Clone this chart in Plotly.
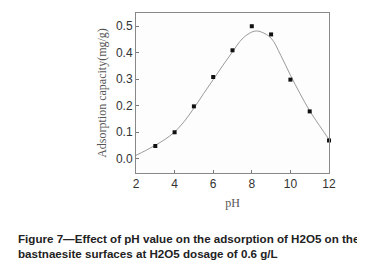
import plotly.graph_objects as go

# measured points
ph_points = [3, 4, 5, 6, 7, 8, 9, 10, 11, 12]
ads_points = [0.047, 0.099, 0.197, 0.308, 0.409, 0.500, 0.469, 0.298, 0.178, 0.068]

# fitted curve
ph_curve = [2, 2.5, 3, 3.5, 4, 4.5, 5, 5.5, 6, 6.5, 7, 7.5, 8, 8.25, 8.5, 9, 9.5, 10, 10.5, 11, 11.5, 12]
ads_curve = [0.012, 0.03, 0.05, 0.072, 0.10, 0.14, 0.19, 0.245, 0.298, 0.352, 0.403, 0.452, 0.478, 0.482, 0.478, 0.455, 0.39, 0.315, 0.245, 0.18, 0.125, 0.072]

x_ticks = [2, 4, 6, 8, 10, 12]
y_ticks = [0.0, 0.1, 0.2, 0.3, 0.4, 0.5]
y_tick_text = ["0.0", "0.1", "0.2", "0.3", "0.4", "0.5"]

L, R, T, B = 128, 44, 5, 102
W, H = 365, 267
pw, ph_ = W - L - R, H - T - B

def px(xp):
    return (xp - L) / pw

def py(yp):
    return (H - B - yp) / ph_

fig = go.Figure()
fig.add_trace(go.Scatter(x=ph_curve, y=ads_curve, mode="lines",
                         line=dict(color="#9a9a9a", width=1, shape="spline"),
                         hoverinfo="skip", showlegend=False))
fig.add_trace(go.Scatter(x=ph_points, y=ads_points, mode="markers",
                         marker=dict(symbol="square", size=4, color="#111111"),
                         showlegend=False, cliponaxis=False))

fig.update_layout(
    width=W, height=H,
    margin=dict(l=L, r=R, t=T, b=B),
    paper_bgcolor="white", plot_bgcolor="#fdfdfd",
    font=dict(family="Liberation Sans, Arial", size=11, color="#333333"),
    xaxis=dict(range=[2, 12], tickvals=x_ticks, ticks="inside", ticklen=3,
               tickcolor="#777777", showline=True, linecolor="#888888", linewidth=1,
               mirror=True, showgrid=False, zeroline=False,
               tickfont=dict(family="Liberation Sans, Arial", size=12, color="#333333"),
               title=dict(text="pH", standoff=8,
                          font=dict(family="Liberation Serif, Times New Roman", size=12, color="#555555"))),
    yaxis=dict(range=[-0.055, 0.55], tickvals=y_ticks, ticktext=y_tick_text, ticks="inside",
               ticklen=3, tickcolor="#777777", showline=True, linecolor="#888888", linewidth=1,
               mirror=True, showgrid=False, zeroline=False,
               tickfont=dict(family="Liberation Sans, Arial", size=12, color="#333333"),
               title=dict(text="Adsorption capacity(mg/g)", standoff=6,
                          font=dict(family="Liberation Serif, Times New Roman", size=12, color="#555555"))),
)

fig.add_annotation(
    xref="paper", yref="paper", x=px(8), y=py(222), xanchor="left", yanchor="top",
    align="left", showarrow=False,
    text="<b>Figure 7\u2014Effect of pH value on the adsorption of H2O5 on the<br>bastnaesite surfaces at H2O5 dosage of 0.6 g/L</b>",
    font=dict(family="Liberation Sans, Arial", size=11.6, color="#222222"),
)

fig.write_html("out.html")
